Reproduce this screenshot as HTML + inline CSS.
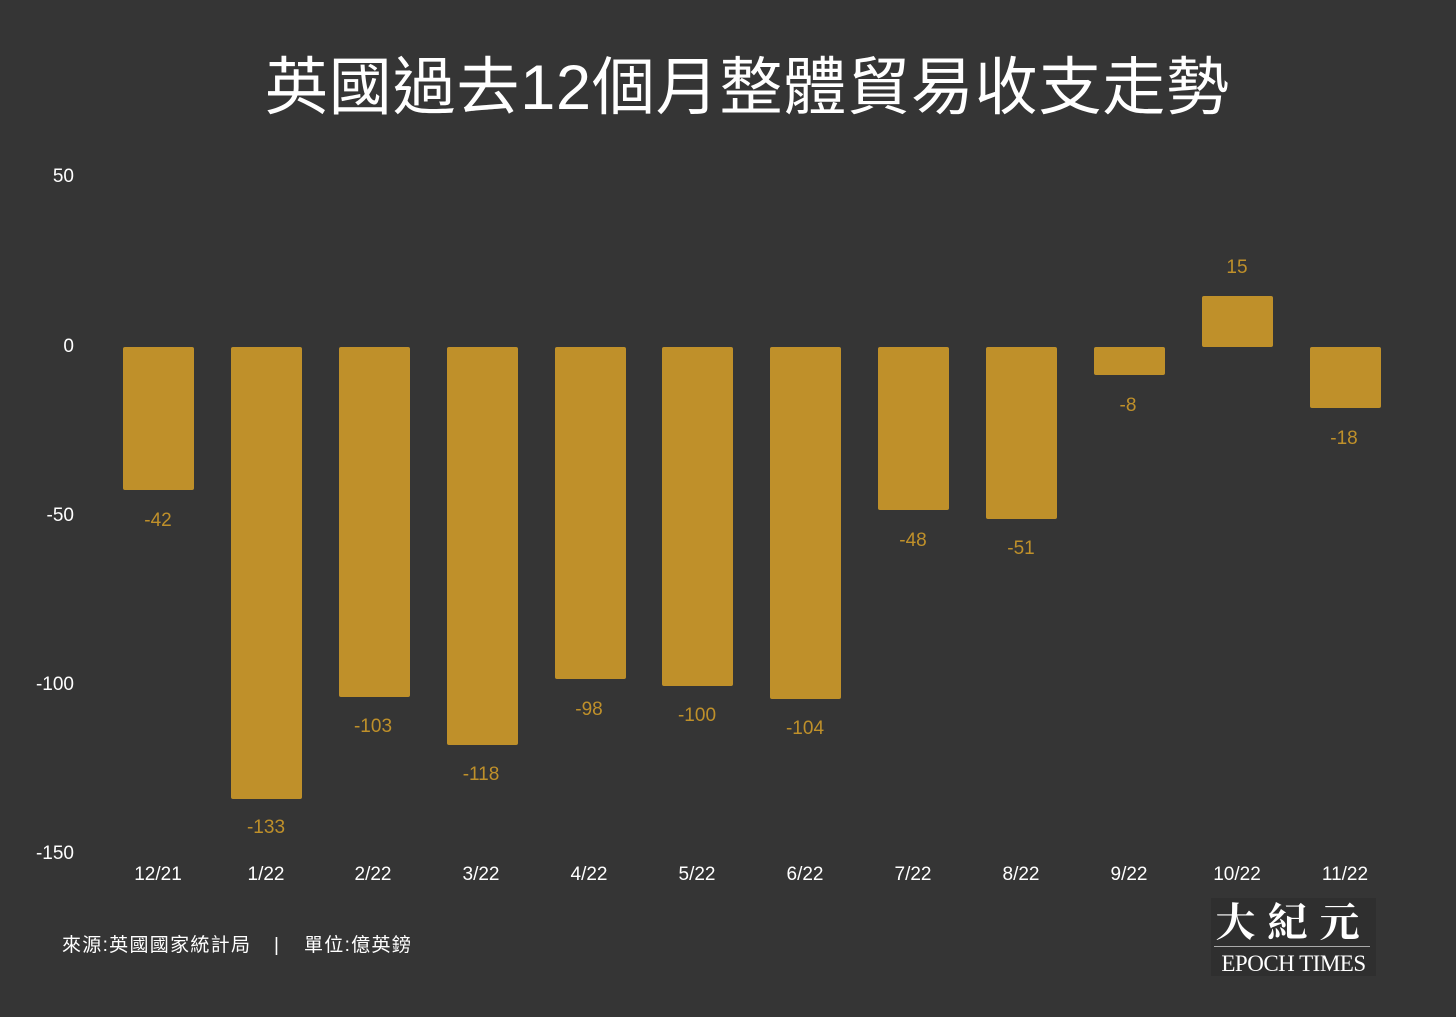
<!DOCTYPE html>
<html><head><meta charset="utf-8"><style>
body{margin:0;width:1456px;height:1017px;background:#353535;position:relative;overflow:hidden;font-family:"Liberation Sans","Noto Sans CJK TC",sans-serif}
.t{position:absolute;left:265px;top:45px;font-size:63px;letter-spacing:0.8px;color:#fff;white-space:nowrap;line-height:86px;font-family:"Liberation Sans","Noto Sans CJK TC",sans-serif}
.y{position:absolute;width:74px;text-align:right;left:0;color:#fff;font-size:19px;line-height:22px}
.b{position:absolute;width:71px;background:#bf902a;border-radius:2px}
.v{position:absolute;width:100px;text-align:center;color:#bf902a;font-size:19px;line-height:22px}
.x{position:absolute;width:100px;text-align:center;color:#fff;font-size:19px;line-height:22px;top:864px}
.f{position:absolute;top:934px;color:#fff;font-size:19px;line-height:24px;white-space:nowrap;letter-spacing:1.3px}
</style></head><body>
<div class="t">英國過去12個月整體貿易收支走勢</div>
<div class="y" style="top:166px">50</div>
<div class="y" style="top:336px">0</div>
<div class="y" style="top:505px">-50</div>
<div class="y" style="top:674px">-100</div>
<div class="y" style="top:843px">-150</div>

<div class="b" style="left:123px;top:347px;height:143px"></div><div class="v" style="left:108px;top:510px">-42</div><div class="x" style="left:108px">12/21</div>
<div class="b" style="left:231px;top:347px;height:452px"></div><div class="v" style="left:216px;top:817px">-133</div><div class="x" style="left:216px">1/22</div>
<div class="b" style="left:339px;top:347px;height:350px"></div><div class="v" style="left:323px;top:716px">-103</div><div class="x" style="left:323px">2/22</div>
<div class="b" style="left:447px;top:347px;height:398px"></div><div class="v" style="left:431px;top:764px">-118</div><div class="x" style="left:431px">3/22</div>
<div class="b" style="left:555px;top:347px;height:332px"></div><div class="v" style="left:539px;top:699px">-98</div><div class="x" style="left:539px">4/22</div>
<div class="b" style="left:662px;top:347px;height:339px"></div><div class="v" style="left:647px;top:705px">-100</div><div class="x" style="left:647px">5/22</div>
<div class="b" style="left:770px;top:347px;height:352px"></div><div class="v" style="left:755px;top:718px">-104</div><div class="x" style="left:755px">6/22</div>
<div class="b" style="left:878px;top:347px;height:163px"></div><div class="v" style="left:863px;top:530px">-48</div><div class="x" style="left:863px">7/22</div>
<div class="b" style="left:986px;top:347px;height:172px"></div><div class="v" style="left:971px;top:538px">-51</div><div class="x" style="left:971px">8/22</div>
<div class="b" style="left:1094px;top:347px;height:28px"></div><div class="v" style="left:1078px;top:395px">-8</div><div class="x" style="left:1079px">9/22</div>
<div class="b" style="left:1202px;top:296px;height:51px"></div><div class="v" style="left:1187px;top:257px">15</div><div class="x" style="left:1187px">10/22</div>
<div class="b" style="left:1310px;top:347px;height:61px"></div><div class="v" style="left:1294px;top:428px">-18</div><div class="x" style="left:1295px">11/22</div>

<div class="f" style="left:62px">來源:英國國家統計局</div>
<div class="f" style="left:274px">|</div>
<div class="f" style="left:304px">單位:億英鎊</div>

<div style="position:absolute;left:1211px;top:898px;width:165px;height:78px;background:#2f2f2f">
<div style="position:absolute;left:0;top:0;width:165px;text-align:center;color:#fff;font-size:40px;font-weight:bold;line-height:44px;letter-spacing:12px;font-family:'Noto Serif CJK SC',serif">大紀元</div>
<div style="position:absolute;left:3px;top:48px;width:156px;height:1px;background:#aaa"></div>
<div style="position:absolute;left:0;top:53px;width:165px;text-align:center;color:#fff;font-size:23px;line-height:26px;font-family:'Liberation Serif',serif;letter-spacing:-0.5px">EPOCH TIMES</div>
</div>
</body></html>
